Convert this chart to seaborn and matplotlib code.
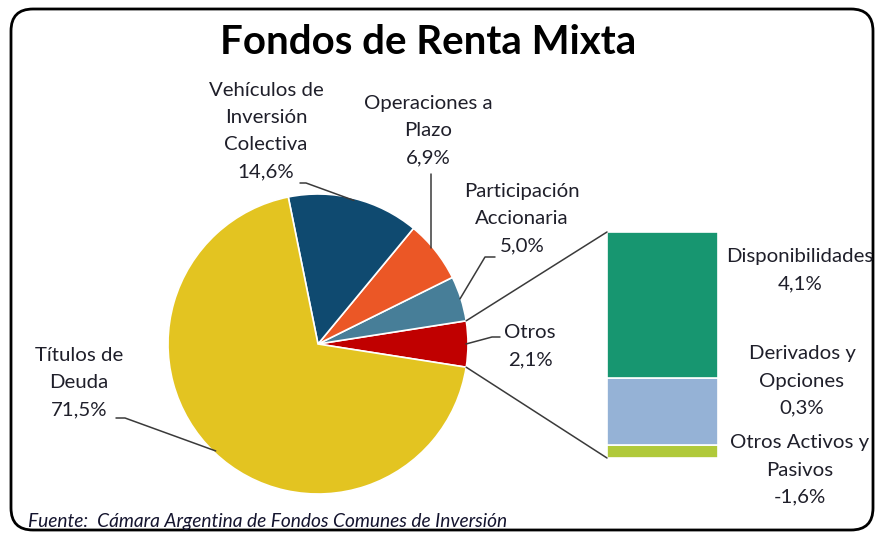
import matplotlib
matplotlib.use("Agg")
import numpy as np
import matplotlib.pyplot as plt
import seaborn as sns
from matplotlib.patches import FancyBboxPatch

# Data
TITLE = "Fondos de Renta Mixta"
SOURCE = "Fuente:  Cámara Argentina de Fondos Comunes de Inversión"

pie_names = ["Otros", "Participación\nAccionaria", "Operaciones a\nPlazo",
             "Vehículos de\nInversión\nColectiva", "Títulos de\nDeuda"]
pie_pct = [2.1, 5.0, 6.9, 14.6, 71.5]          # shown in labels
pie_sizes = [5.1, 5.0, 6.9, 14.6, 71.5]        # slice sizes as drawn
pie_colors = ["#C00000", "#477E98", "#EB5726", "#0F4A70", "#E3C421"]

bar_names = ["Disponibilidades", "Derivados y\nOpciones", "Otros Activos y\nPasivos"]
bar_pct = [4.1, 0.3, -1.6]                     # shown in labels
bar_sizes = [3.3, 1.5, 0.3]                    # segment heights as drawn
bar_colors = ["#179670", "#95B2D6", "#B0C93A"]

# Layout (pixels)
W, H = 877, 535
PIE_CX, PIE_CY, PIE_R = 318, 344, 150
BAR_L, BAR_T, BAR_W, BAR_H = 607, 232, 111, 226

TEXT_COLOR = "#1F1F2A"
LINE_COLOR = "#3A3A3A"


def pct(v):
    return f"{v:.1f}%".replace(".", ",")


sns.set_theme(style="white")
plt.rcParams['font.family'] = ['Lato', 'DejaVu Sans']

fig = plt.figure(figsize=(W / 100, H / 100), dpi=100)

# pie axes
ax_pie = fig.add_axes([(PIE_CX - PIE_R) / W, 1 - (PIE_CY + PIE_R) / H,
                       2 * PIE_R / W, 2 * PIE_R / H])
start = -360 * pie_sizes[0] / sum(pie_sizes) / 2
wedges, _ = ax_pie.pie(pie_sizes, colors=pie_colors, startangle=start,
                       counterclock=True,
                       wedgeprops=dict(edgecolor="white", linewidth=1.2))
ax_pie.set_xlim(-1, 1)
ax_pie.set_ylim(-1, 1)
ax_pie.axis("off")

# stacked bar axes
ax_bar = fig.add_axes([BAR_L / W, 1 - (BAR_T + BAR_H) / H, BAR_W / W, BAR_H / H])
bottom = 0
for size, color in zip(bar_sizes[::-1], bar_colors[::-1]):
    ax_bar.bar(0, size, bottom=bottom, width=1, color=color,
               edgecolor="white", linewidth=1.2)
    bottom += size
ax_bar.set_xlim(-0.5, 0.5)
ax_bar.set_ylim(0, sum(bar_sizes))
ax_bar.axis("off")

# overlay for frame, text and leader lines (pixel coords)
ov = fig.add_axes([0, 0, 1, 1], zorder=5)
ov.set_xlim(0, W)
ov.set_ylim(H, 0)
ov.axis("off")
ov.patch.set_visible(False)

frame = FancyBboxPatch((11, 9), 862, 521, boxstyle="round,pad=0,rounding_size=22",
                       fill=False, ec="black", lw=2)
ov.add_patch(frame)


def edge(theta, r=PIE_R):
    t = np.deg2rad(theta)
    return PIE_CX + r * np.cos(t), PIE_CY - r * np.sin(t)


mids = [(w.theta1 + w.theta2) / 2 for w in wedges]

ov.text(W / 2 - 10, 43, TITLE, ha="center", va="center", fontsize=29,
        fontweight="bold", color="black")

# pie labels
pie_label_pos = [(530, 346), (522, 219), (428, 131), (266, 131), (79, 383)]
for name, v, (x, y) in zip(pie_names, pie_pct, pie_label_pos):
    ov.text(x, y, f"{name}\n{pct(v)}", ha="center", va="center", fontsize=14.7,
            color=TEXT_COLOR, linespacing=1.72)

# bar labels
bar_label_pos = [(800, 270), (802, 381), (800, 470)]
for name, v, (x, y) in zip(bar_names, bar_pct, bar_label_pos):
    ov.text(x, y, f"{name}\n{pct(v)}", ha="center", va="center", fontsize=14.7,
            color=TEXT_COLOR, linespacing=1.72)

# leader lines
lw = 1.1
ex, ey = edge(mids[0], PIE_R - 2)
ov.plot([ex, 492, 500], [ey, 337, 337], color=LINE_COLOR, lw=lw)
ex, ey = edge(mids[1], PIE_R - 1)
ov.plot([ex, 485, 495], [ey, 257, 257], color=LINE_COLOR, lw=lw)
ex, ey = edge(mids[2] + 2, PIE_R - 2)
ov.plot([ex, ex], [ey, 174], color=LINE_COLOR, lw=lw)
ex, ey = edge(mids[3], PIE_R - 2)
ov.plot([ex, 306, 300], [ey, 183, 183], color=LINE_COLOR, lw=lw)
ex, ey = edge(mids[4], PIE_R - 2)
ov.plot([ex, 125, 116], [ey, 418, 418], color=LINE_COLOR, lw=lw)

# connectors pie -> bar
x1, y1 = edge(wedges[0].theta2)
x2, y2 = edge(wedges[0].theta1)
ov.plot([x1, BAR_L], [y1, BAR_T], color=LINE_COLOR, lw=lw)
ov.plot([x2, BAR_L], [y2, BAR_T + BAR_H], color=LINE_COLOR, lw=lw)

ov.text(28, 522, SOURCE, ha="left", va="center", fontsize=13.8,
        fontstyle="italic", color="#14142E")

fig.savefig("out.png", dpi=100)
